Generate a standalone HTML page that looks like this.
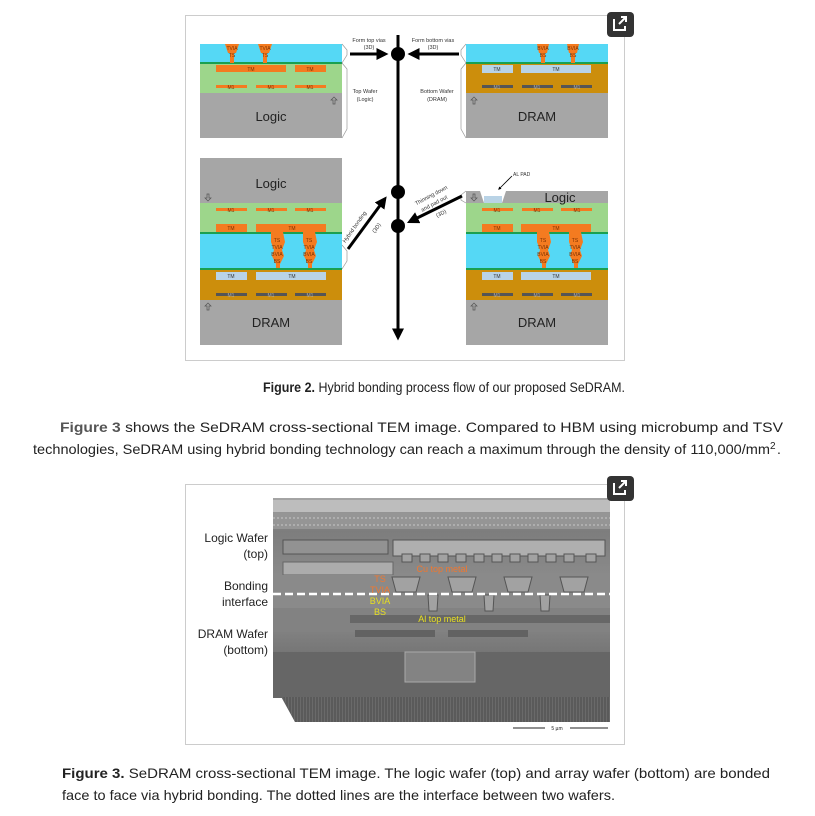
<!DOCTYPE html>
<html><head><meta charset="utf-8"><style>
html,body{margin:0;padding:0;background:#fff;}
svg{display:block;font-family:"Liberation Sans",sans-serif;}
</style></head><body>
<svg width="815" height="816" viewBox="0 0 815 816">
<defs>
<marker id="ah" markerWidth="4" markerHeight="4" refX="2.5" refY="2" orient="auto"><path d="M0,0 L4,2 L0,4 z" fill="#000"/></marker>
<linearGradient id="tem" x1="0" y1="0" x2="0" y2="1">
<stop offset="0" stop-color="#a5a5a5"/><stop offset="0.15" stop-color="#7d7d7d"/><stop offset="0.45" stop-color="#919191"/><stop offset="0.7" stop-color="#757575"/><stop offset="1" stop-color="#555"/></linearGradient>
<pattern id="stripes" width="3" height="10" patternUnits="userSpaceOnUse"><rect width="3" height="10" fill="#5a5a5a"/><rect width="1" height="10" fill="#6a6a6a"/></pattern>
</defs>

<!-- FIGURE 2 -->
<g>
<rect x="185.5" y="15.5" width="439" height="345" fill="#fff" stroke="#ccc"/>

<g>
<rect x="200" y="44" width="142" height="19" fill="#55d8f5"/>
<rect x="200" y="62" width="142" height="2" fill="#1aa050"/>
<rect x="200" y="64" width="142" height="29" fill="#9dd68b"/>
<rect x="200" y="93" width="142" height="45" fill="#a6a6a6"/>
<path d="M225,44 h14 l-3,9 h-2 v10 h-4 v-10 h-2z M258,44 h14 l-3,9 h-2 v10 h-4 v-10 h-2z" fill="#f47b20"/>
<rect x="216" y="65" width="70" height="7" fill="#f47b20"/><rect x="295" y="65" width="31" height="7" fill="#f47b20"/>
<rect x="216" y="85" width="31" height="3" fill="#f47b20"/><rect x="256" y="85" width="31" height="3" fill="#f47b20"/><rect x="295" y="85" width="31" height="3" fill="#f47b20"/>
<g font-size="5" fill="#7a3000" text-anchor="middle"><text x="232" y="50">TVIA</text><text x="232" y="57">TS</text><text x="265" y="50">TVIA</text><text x="265" y="57">TS</text>
<text x="251" y="71">TM</text><text x="310" y="71">TM</text><text x="231" y="89">M1</text><text x="271" y="89">M1</text><text x="310" y="89">M1</text></g>
<text x="271" y="121" font-size="13" text-anchor="middle" fill="#222">Logic</text>
<path d="M334,97 l-3,3 h2 v4 h2 v-4 h2z" fill="none" stroke="#555" stroke-width="0.7"/>
</g>

<g>
<rect x="466" y="44" width="142" height="19" fill="#55d8f5"/>
<rect x="466" y="62" width="142" height="2" fill="#1aa050"/>
<rect x="466" y="64" width="142" height="29" fill="#cc8e0c"/>
<rect x="466" y="93" width="142" height="45" fill="#a6a6a6"/>
<path d="M537,44 h12 l-2,9 h-2 v10 h-4 v-10 h-2z M567,44 h12 l-2,9 h-2 v10 h-4 v-10 h-2z" fill="#f47b20"/>
<rect x="482" y="65" width="31" height="8" fill="#b9d3e6"/><rect x="521" y="65" width="70" height="8" fill="#b9d3e6"/>
<rect x="482" y="85" width="31" height="3" fill="#555"/><rect x="522" y="85" width="31" height="3" fill="#555"/><rect x="561" y="85" width="31" height="3" fill="#555"/>
<g font-size="5" fill="#7a3000" text-anchor="middle"><text x="543" y="50">BVIA</text><text x="543" y="57">BS</text><text x="573" y="50">BVIA</text><text x="573" y="57">BS</text></g>
<g font-size="5" fill="#333" text-anchor="middle"><text x="497" y="71">TM</text><text x="556" y="71">TM</text></g>
<g font-size="5" fill="#aaa" text-anchor="middle"><text x="497" y="89">M1</text><text x="537" y="89">M1</text><text x="577" y="89">M1</text></g>
<text x="537" y="121" font-size="13" text-anchor="middle" fill="#222">DRAM</text>
<path d="M474,97 l-3,3 h2 v4 h2 v-4 h2z" fill="none" stroke="#555" stroke-width="0.7"/>
</g>

<g fill="none" stroke="#999" stroke-width="0.7">
<path d="M342,44 l5,6 v5 l-5,8"/><path d="M342,63 l5,6 v60 l-5,9"/>
<path d="M466,44 l-5,6 v5 l5,8"/><path d="M466,63 l-5,6 v60 l5,9"/>
<path d="M342,245 l5,6 v10 l-5,8"/><path d="M466,191 l-5,4 v5 l5,3"/>
</g>

<g>
<rect x="200" y="158" width="142" height="45" fill="#a6a6a6"/>
<rect x="200" y="203" width="142" height="29" fill="#9dd68b"/>
<rect x="200" y="232" width="142" height="2" fill="#1aa050"/>
<rect x="200" y="234" width="142" height="34" fill="#55d8f5"/>
<rect x="200" y="268" width="142" height="2" fill="#1aa050"/>
<rect x="200" y="270" width="142" height="30" fill="#cc8e0c"/>
<rect x="200" y="300" width="142" height="45" fill="#a6a6a6"/>
<rect x="216" y="208" width="31" height="3" fill="#f47b20"/><rect x="256" y="208" width="31" height="3" fill="#f47b20"/><rect x="295" y="208" width="31" height="3" fill="#f47b20"/>
<rect x="216" y="224" width="31" height="8" fill="#f47b20"/><rect x="256" y="224" width="70" height="8" fill="#f47b20"/>
<path d="M271,232 h12 l2,10 l-3,8 l2,6 l-4,8 v4 h-4 v-4 l-4,-8 l2,-6 l-3,-8z M303,232 h12 l2,10 l-3,8 l2,6 l-4,8 v4 h-4 v-4 l-4,-8 l2,-6 l-3,-8z" fill="#f47b20"/>
<rect x="216" y="272" width="31" height="8" fill="#b9d3e6"/><rect x="256" y="272" width="70" height="8" fill="#b9d3e6"/>
<rect x="216" y="293" width="31" height="3" fill="#555"/><rect x="256" y="293" width="31" height="3" fill="#555"/><rect x="295" y="293" width="31" height="3" fill="#555"/>
<g font-size="5" fill="#7a3000" text-anchor="middle"><text x="277" y="242">TS</text><text x="277" y="249">TVIA</text><text x="277" y="256">BVIA</text><text x="277" y="263">BS</text><text x="309" y="242">TS</text><text x="309" y="249">TVIA</text><text x="309" y="256">BVIA</text><text x="309" y="263">BS</text>
<text x="231" y="212">M1</text><text x="271" y="212">M1</text><text x="310" y="212">M1</text><text x="231" y="230">TM</text><text x="292" y="230">TM</text></g>
<g font-size="5" text-anchor="middle"><text x="231" y="278" fill="#333">TM</text><text x="292" y="278" fill="#333">TM</text><text x="231" y="297" fill="#aaa">M1</text><text x="271" y="297" fill="#aaa">M1</text><text x="310" y="297" fill="#aaa">M1</text></g>
<text x="271" y="188" font-size="13" text-anchor="middle" fill="#222">Logic</text>
<text x="271" y="327" font-size="13" text-anchor="middle" fill="#222">DRAM</text>
<path d="M208,201 l-3,-3 h2 v-4 h2 v4 h2z" fill="none" stroke="#555" stroke-width="0.7"/>
<path d="M208,303 l-3,3 h2 v4 h2 v-4 h2z" fill="none" stroke="#555" stroke-width="0.7"/>
</g>

<g>
<rect x="466" y="191" width="142" height="12" fill="#a6a6a6"/>
<path d="M480,191 l4,12 h18 l4,-12z" fill="#fff"/>
<rect x="484" y="196" width="18" height="7" fill="#b9d3e6"/>
<rect x="466" y="203" width="142" height="29" fill="#9dd68b"/>
<rect x="466" y="232" width="142" height="2" fill="#1aa050"/>
<rect x="466" y="234" width="142" height="34" fill="#55d8f5"/>
<rect x="466" y="268" width="142" height="2" fill="#1aa050"/>
<rect x="466" y="270" width="142" height="30" fill="#cc8e0c"/>
<rect x="466" y="300" width="142" height="45" fill="#a6a6a6"/>
<rect x="482" y="208" width="31" height="3" fill="#f47b20"/><rect x="522" y="208" width="31" height="3" fill="#f47b20"/><rect x="561" y="208" width="31" height="3" fill="#f47b20"/>
<rect x="482" y="224" width="31" height="8" fill="#f47b20"/><rect x="521" y="224" width="70" height="8" fill="#f47b20"/>
<path d="M537,232 h12 l2,10 l-3,8 l2,6 l-4,8 v4 h-4 v-4 l-4,-8 l2,-6 l-3,-8z M569,232 h12 l2,10 l-3,8 l2,6 l-4,8 v4 h-4 v-4 l-4,-8 l2,-6 l-3,-8z" fill="#f47b20"/>
<rect x="482" y="272" width="31" height="8" fill="#b9d3e6"/><rect x="521" y="272" width="70" height="8" fill="#b9d3e6"/>
<rect x="482" y="293" width="31" height="3" fill="#555"/><rect x="522" y="293" width="31" height="3" fill="#555"/><rect x="561" y="293" width="31" height="3" fill="#555"/>
<g font-size="5" fill="#7a3000" text-anchor="middle"><text x="543" y="242">TS</text><text x="543" y="249">TVIA</text><text x="543" y="256">BVIA</text><text x="543" y="263">BS</text><text x="575" y="242">TS</text><text x="575" y="249">TVIA</text><text x="575" y="256">BVIA</text><text x="575" y="263">BS</text>
<text x="497" y="212">M1</text><text x="537" y="212">M1</text><text x="577" y="212">M1</text><text x="497" y="230">TM</text><text x="556" y="230">TM</text></g>
<g font-size="5" text-anchor="middle"><text x="497" y="278" fill="#333">TM</text><text x="556" y="278" fill="#333">TM</text><text x="497" y="297" fill="#aaa">M1</text><text x="537" y="297" fill="#aaa">M1</text><text x="577" y="297" fill="#aaa">M1</text></g>
<text x="560" y="202" font-size="13" text-anchor="middle" fill="#222">Logic</text>
<text x="537" y="327" font-size="13" text-anchor="middle" fill="#222">DRAM</text>
<path d="M474,201 l-3,-3 h2 v-4 h2 v4 h2z" fill="none" stroke="#555" stroke-width="0.7"/>
<path d="M474,303 l-3,3 h2 v4 h2 v-4 h2z" fill="none" stroke="#555" stroke-width="0.7"/>
<text x="513" y="176" font-size="5" fill="#333">AL PAD</text>
<line x1="512" y1="176" x2="499" y2="189" stroke="#000" stroke-width="0.8" marker-end="url(#ah)"/>
</g>

<g>
<line x1="398" y1="35" x2="398" y2="336" stroke="#000" stroke-width="3" marker-end="url(#ah)"/>
<circle cx="398" cy="54" r="7" fill="#000"/><circle cx="398" cy="192" r="7" fill="#000"/><circle cx="398" cy="226" r="7" fill="#000"/>
<line x1="350" y1="54" x2="384" y2="54" stroke="#000" stroke-width="3" marker-end="url(#ah)"/>
<line x1="459" y1="54" x2="412" y2="54" stroke="#000" stroke-width="3" marker-end="url(#ah)"/>
<line x1="348" y1="249" x2="384" y2="200" stroke="#000" stroke-width="3" marker-end="url(#ah)"/>
<line x1="462" y1="196" x2="411" y2="221" stroke="#000" stroke-width="3" marker-end="url(#ah)"/>
<g font-size="5.5" fill="#333" text-anchor="middle">
<text x="369" y="42">Form top vias</text><text x="369" y="49">(3D)</text>
<text x="433" y="42">Form bottom vias</text><text x="433" y="49">(3D)</text>
<text x="365" y="93">Top Wafer</text><text x="365" y="101">(Logic)</text>
<text x="437" y="93">Bottom Wafer</text><text x="437" y="101">(DRAM)</text>
<text x="356" y="228" transform="rotate(-55 356 228)">Hybrid bonding</text>
<text x="378" y="229" transform="rotate(-55 378 229)">(3D)</text>
<text x="432" y="197" transform="rotate(-28 432 197)">Thinning down</text>
<text x="435" y="205" transform="rotate(-28 435 205)">and pad out</text>
<text x="442" y="215" transform="rotate(-28 442 215)">(3D)</text>
</g>
</g>
<g>
<rect x="607" y="12" width="27" height="25" rx="4" fill="#333"/>
<path d="M614,19 v11 h11 v-4 M619,24 l7,-7 M621,17 h5 v5" fill="none" stroke="#fff" stroke-width="2"/>
</g>
</g>

<text x="263" y="392" font-size="14" fill="#222" textLength="362" lengthAdjust="spacingAndGlyphs"><tspan font-weight="bold">Figure 2.</tspan> Hybrid bonding process flow of our proposed SeDRAM.</text>

<g font-size="14" fill="#222">
<text x="60" y="432" textLength="723" lengthAdjust="spacingAndGlyphs"><tspan font-weight="bold" fill="#555">Figure 3</tspan> shows the SeDRAM cross-sectional TEM image. Compared to HBM using microbump and TSV</text>
<text x="33" y="454" textLength="737" lengthAdjust="spacingAndGlyphs">technologies, SeDRAM using hybrid bonding technology can reach a maximum through the density of 110,000/mm</text>
<text x="770" y="449" font-size="10">2</text><text x="777" y="454">.</text>
</g>

<g>
<rect x="185.5" y="484.5" width="439" height="260" fill="#fff" stroke="#ccc"/>
<g>
<path d="M273,498 H610 V722 H295 L273,682 Z" fill="url(#tem)"/>
<rect x="273" y="500" width="337" height="12" fill="#bdbdbd"/>
<rect x="273" y="513" width="337" height="16" fill="#959595"/>
<line x1="273" y1="518" x2="610" y2="518" stroke="#c8c8c8" stroke-dasharray="2 2"/>
<line x1="273" y1="525" x2="610" y2="525" stroke="#c8c8c8" stroke-dasharray="2 2"/>
<rect x="393" y="540" width="212" height="16" fill="#afafaf" stroke="#555"/>
<rect x="283" y="540" width="105" height="14" fill="#929292" stroke="#555"/>
<rect x="283" y="562" width="110" height="13" fill="#acacac" stroke="#666"/>
<rect x="273" y="575" width="337" height="33" fill="#8a8a8a"/>
<rect x="273" y="608" width="337" height="24" fill="#828282"/>
<rect x="350" y="615" width="260" height="8" fill="#676767"/>
<rect x="355" y="630" width="80" height="7" fill="#626262"/><rect x="448" y="630" width="80" height="7" fill="#626262"/>
<rect x="273" y="652" width="337" height="46" fill="#666"/>
<rect x="405" y="652" width="70" height="30" fill="#838383" stroke="#aaa"/>
<path d="M283,697 H610 V722 H295 Z" fill="url(#stripes)"/>
<g fill="#a2a2a2" stroke="#555">
<rect x="402" y="554" width="10" height="8"/><rect x="420" y="554" width="10" height="8"/><rect x="438" y="554" width="10" height="8"/><rect x="456" y="554" width="10" height="8"/><rect x="474" y="554" width="10" height="8"/><rect x="492" y="554" width="10" height="8"/><rect x="510" y="554" width="10" height="8"/><rect x="528" y="554" width="10" height="8"/><rect x="546" y="554" width="10" height="8"/><rect x="564" y="554" width="10" height="8"/><rect x="586" y="554" width="10" height="8"/>
<path d="M392,577 h28 l-4,15 h-20z M448,577 h28 l-4,15 h-20z M504,577 h28 l-4,15 h-20z M560,577 h28 l-4,15 h-20z"/>
<path d="M428,595 h10 l-1,16 h-8z M484,595 h10 l-1,16 h-8z M540,595 h10 l-1,16 h-8z"/>
</g>
<line x1="273" y1="594" x2="610" y2="594" stroke="#fff" stroke-width="2.5" stroke-dasharray="8 4"/>
<g font-size="9" text-anchor="middle">
<text x="442" y="572" fill="#f07830">Cu top metal</text>
<text x="380" y="582" fill="#f07830">TS</text><text x="380" y="593" fill="#f07830">TVIA</text>
<text x="380" y="604" fill="#e8e020">BVIA</text><text x="380" y="615" fill="#e8e020">BS</text>
<text x="442" y="622" fill="#e8e020">Al top metal</text>
</g>
</g>
<g font-size="12" fill="#222" text-anchor="end">
<text x="268" y="542">Logic Wafer</text><text x="268" y="558">(top)</text>
<text x="268" y="590">Bonding</text><text x="268" y="606">interface</text>
<text x="268" y="638">DRAM Wafer</text><text x="268" y="654">(bottom)</text>
</g>
<g>
<line x1="513" y1="728" x2="545" y2="728" stroke="#222"/><line x1="570" y1="728" x2="608" y2="728" stroke="#222"/>
<text x="557" y="730" font-size="5" text-anchor="middle" fill="#222">5 µm</text>
</g>
<g>
<rect x="607" y="476" width="27" height="25" rx="4" fill="#333"/>
<path d="M614,483 v11 h11 v-4 M619,488 l7,-7 M621,481 h5 v5" fill="none" stroke="#fff" stroke-width="2"/>
</g>
</g>

<g font-size="14" fill="#222">
<text x="62" y="778" textLength="708" lengthAdjust="spacingAndGlyphs"><tspan font-weight="bold">Figure 3.</tspan> SeDRAM cross-sectional TEM image. The logic wafer (top) and array wafer (bottom) are bonded</text>
<text x="62" y="800" textLength="553" lengthAdjust="spacingAndGlyphs">face to face via hybrid bonding. The dotted lines are the interface between two wafers.</text>
</g>
</svg>
</body></html>
